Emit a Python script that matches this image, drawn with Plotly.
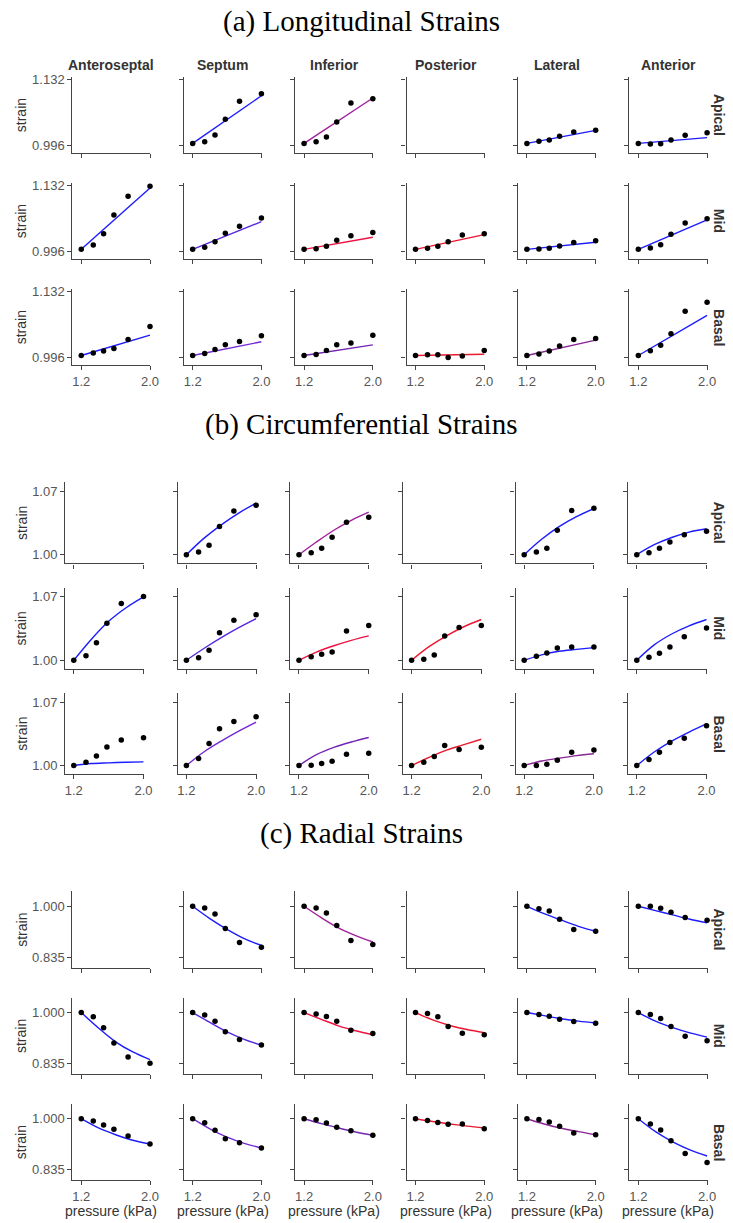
import plotly.graph_objects as go

# ---------------- data ----------------
SEGMENTS = ["Anteroseptal", "Septum", "Inferior", "Posterior", "Lateral", "Anterior"]
LEVELS = ["Apical", "Mid", "Basal"]
PRESSURE = [1.2, 1.34, 1.46, 1.58, 1.745, 2.0]

# (a) Longitudinal strains: measured points and fitted-line values
LONG_FIT_X = [1.2, 2.0]
long_apical_pts = [None,
                   [1.0, 1.0036, 1.0174, 1.0498, 1.0871, 1.1030],
                   [1.0, 1.0036, 1.0133, 1.0443, 1.0836, 1.0926],
                   None,
                   [1.0, 1.0043, 1.0070, 1.0146, 1.0236, 1.0270],
                   [1.0, 0.9988, 0.9995, 1.0070, 1.0167, 1.0222]]
long_mid_pts = [[1.0, 1.0091, 1.0326, 1.0712, 1.1099, 1.1306],
                [1.0, 1.0043, 1.0160, 1.0333, 1.0478, 1.0650],
                [1.0, 1.0015, 1.0064, 1.0188, 1.0284, 1.0347],
                [1.0, 1.0022, 1.0064, 1.0160, 1.0298, 1.0326],
                [1.0, 1.0008, 1.0022, 1.0070, 1.0140, 1.0180],
                [1.0, 1.0029, 1.0098, 1.0312, 1.0547, 1.0636]]
long_basal_pts = [[1.0, 1.0050, 1.0091, 1.0146, 1.0333, 1.0602],
                  [1.0, 1.0043, 1.0126, 1.0222, 1.0291, 1.0409],
                  [1.0, 1.0022, 1.0105, 1.0222, 1.0257, 1.0422],
                  [1.0, 1.0015, 1.0015, 0.9960, 0.9988, 1.0105],
                  [1.0, 1.0029, 1.0091, 1.0195, 1.0333, 1.0353],
                  [1.0, 1.0098, 1.0215, 1.0450, 1.0919, 1.1105]]
long_apical_fit = [None, [1.0, 1.0988], [1.0, 1.0941], None, [1.0, 1.0270], [1.0, 1.0119]]
long_mid_fit = [[1.0, 1.1271], [1.0, 1.0574], [1.0, 1.0250], [1.0, 1.0305], [1.0, 1.0146], [1.0, 1.0609]]
long_basal_fit = [[1.0, 1.0422], [1.0, 1.0285], [1.0, 1.0220], [1.0, 1.0026], [1.0, 1.0320], [1.0, 1.0830]]

# (b) Circumferential strains
CIRC_FIT_X = [1.2, 1.4, 1.6, 1.8, 2.0]
circ_apical_pts = [None,
                   [1.0, 1.0029, 1.0103, 1.0311, 1.0483, 1.0546],
                   [1.0, 1.0022, 1.0070, 1.0194, 1.0359, 1.0414],
                   None,
                   [1.0, 1.0029, 1.0070, 1.0271, 1.0487, 1.0513],
                   [1.0, 1.0022, 1.0070, 1.0139, 1.0220, 1.0260]]
circ_mid_pts = [[1.0, 1.0051, 1.0194, 1.0410, 1.0626, 1.0703],
                [1.0, 1.0029, 1.0110, 1.0304, 1.0443, 1.0502],
                [1.0, 1.0040, 1.0066, 1.0092, 1.0322, 1.0385],
                [1.0, 1.0011, 1.0059, 1.0267, 1.0363, 1.0385],
                [1.0, 1.0044, 1.0081, 1.0136, 1.0147, 1.0147],
                [1.0, 1.0033, 1.0077, 1.0147, 1.0260, 1.0355]]
circ_basal_pts = [[1.0, 1.0037, 1.0106, 1.0205, 1.0282, 1.0308],
                  [1.0, 1.0077, 1.0242, 1.0407, 1.0487, 1.0538],
                  [1.0, 1.0004, 1.0022, 1.0048, 1.0125, 1.0136],
                  [1.0, 1.0037, 1.0099, 1.0220, 1.0176, 1.0201],
                  [1.0, 1.0000, 1.0015, 1.0059, 1.0147, 1.0172],
                  [1.0, 1.0066, 1.0147, 1.0253, 1.0300, 1.0440]]
circ_apical_fit = [None,
                   [1.0, 1.018, 1.033, 1.046, 1.057],
                   [1.0, 1.014, 1.027, 1.038, 1.047],
                   None,
                   [1.0, 1.017, 1.031, 1.042, 1.051],
                   [1.0, 1.011, 1.019, 1.025, 1.0286]]
circ_mid_fit = [[1.0, 1.023, 1.043, 1.058, 1.070],
                [1.0, 1.013, 1.025, 1.036, 1.046],
                [1.0, 1.009, 1.016, 1.022, 1.027],
                [1.0, 1.015, 1.027, 1.037, 1.045],
                [1.0, 1.006, 1.010, 1.012, 1.014],
                [1.0, 1.017, 1.029, 1.038, 1.045]]
circ_basal_fit = [[1.0, 1.0022, 1.0030, 1.0036, 1.0040],
                  [1.0, 1.015, 1.027, 1.038, 1.048],
                  [1.0, 1.012, 1.020, 1.026, 1.031],
                  [1.0, 1.009, 1.017, 1.023, 1.029],
                  [1.0, 1.005, 1.008, 1.011, 1.013],
                  [1.0, 1.015, 1.027, 1.037, 1.046]]

# (c) Radial strains
RAD_FIT_X = [1.2, 1.4, 1.6, 1.8, 2.0]
rad_apical_pts = [None,
                  [1.0, 0.9946, 0.9752, 0.9277, 0.8824, 0.8673],
                  [1.0, 0.9946, 0.9784, 0.9374, 0.8889, 0.8760],
                  None,
                  [1.0, 0.9924, 0.9849, 0.9579, 0.9245, 0.9191],
                  [1.0, 1.0000, 0.9935, 0.9806, 0.9633, 0.9547]]
rad_mid_pts = [[1.0, 0.9860, 0.9504, 0.9008, 0.8554, 0.8350],
               [1.0, 0.9924, 0.9720, 0.9374, 0.9126, 0.8943],
               [1.0, 0.9957, 0.9870, 0.9720, 0.9428, 0.9320],
               [1.0, 0.9968, 0.9860, 0.9547, 0.9331, 0.9277],
               [1.0, 0.9935, 0.9881, 0.9784, 0.9709, 0.9655],
               [1.0, 0.9935, 0.9806, 0.9547, 0.9234, 0.9083]]
rad_basal_pts = [[1.0, 0.9924, 0.9795, 0.9655, 0.9439, 0.9180],
                 [1.0, 0.9870, 0.9622, 0.9353, 0.9223, 0.9050],
                 [1.0, 0.9968, 0.9860, 0.9720, 0.9612, 0.9460],
                 [1.0, 0.9946, 0.9881, 0.9817, 0.9827, 0.9676],
                 [1.0, 0.9978, 0.9892, 0.9752, 0.9536, 0.9482],
                 [1.0, 0.9827, 0.9633, 0.9288, 0.8867, 0.8576]]
rad_apical_fit = [None,
                  [1.0, 0.960, 0.925, 0.895, 0.873],
                  [1.0, 0.963, 0.930, 0.905, 0.884],
                  None,
                  [1.0, 0.976, 0.955, 0.935, 0.919],
                  [1.0, 0.986, 0.972, 0.958, 0.946]]
rad_mid_fit = [[1.0, 0.950, 0.905, 0.872, 0.847],
               [1.0, 0.968, 0.937, 0.913, 0.894],
               [1.0, 0.978, 0.957, 0.941, 0.928],
               [1.0, 0.976, 0.958, 0.945, 0.935],
               [1.0, 0.990, 0.980, 0.972, 0.966],
               [1.0, 0.972, 0.951, 0.934, 0.920]]
rad_basal_fit = [[1.0, 0.970, 0.948, 0.930, 0.918],
                 [1.0, 0.967, 0.940, 0.920, 0.905],
                 [1.0, 0.984, 0.970, 0.957, 0.946],
                 [1.0, 0.991, 0.983, 0.976, 0.970],
                 [1.0, 0.983, 0.969, 0.958, 0.948],
                 [1.0, 0.958, 0.925, 0.899, 0.879]]

# fitted-line colours per level x segment
LINE_COLORS = [["#1c1cff", "#1c1cff", "#a01f9c", "#ee1530", "#1c1cff", "#1c1cff"],
               ["#1c1cff", "#5528e2", "#ee1240", "#ee1530", "#1c1cff", "#1c1cff"],
               ["#1c1cff", "#7328d6", "#7426b4", "#e81a30", "#8a2696", "#1c1cff"]]

# ---------------- layout geometry ----------------
W, H = 733, 1223
SANS = "Liberation Sans, Arial, sans-serif"
SERIF = "Liberation Serif, Times New Roman, serif"
AXC = "#444444"
TXC = "#555555"

sections = [
    dict(title="(a) Longitudinal Strains", title_y=17,
         x0=73.3, dx=112.8, w=79.0, tops=[72.3, 178.7, 285.3], h=76.2,
         xr=[1.097, 2.005], yr=[0.9803, 1.1376],
         yt=[0.996, 1.132], ytt=["0.996", "1.132"],
         fitx=LONG_FIT_X, pts=[long_apical_pts, long_mid_pts, long_basal_pts],
         fit=[long_apical_fit, long_mid_fit, long_basal_fit], headers=True, xlabel=False),
    dict(title="(b) Circumferential Strains", title_y=421,
         x0=66.0, dx=114.0, w=79.7, tops=[479.0, 585.0, 690.7], h=81.7,
         xr=[1.1014, 2.0045], yr=[0.9904, 1.0802],
         yt=[1.00, 1.07], ytt=["1.00", "1.07"],
         fitx=CIRC_FIT_X, pts=[circ_apical_pts, circ_mid_pts, circ_basal_pts],
         fit=[circ_apical_fit, circ_mid_fit, circ_basal_fit], headers=False, xlabel=False),
    dict(title="(c) Radial Strains", title_y=832,
         x0=73.3, dx=112.8, w=79.0, tops=[890.0, 996.7, 1103.3], h=76.7,
         xr=[1.097, 2.005], yr=[0.8004, 1.0485],
         yt=[0.835, 1.000], ytt=["0.835", "1.000"],
         fitx=RAD_FIT_X, pts=[rad_apical_pts, rad_mid_pts, rad_basal_pts],
         fit=[rad_apical_fit, rad_mid_fit, rad_basal_fit], headers=False, xlabel=True),
]


def fx(px):
    return px / W


def fy(px):
    return 1 - px / H


fig = go.Figure()
layout = {}
annotations = []
k = 0
for s in sections:
    annotations.append(dict(text=s["title"], x=0.4993, y=fy(s["title_y"]), xref="paper", yref="paper",
                            xanchor="center", yanchor="middle", showarrow=False,
                            font=dict(family=SERIF, size=29, color="black")))
    for r in range(3):
        top = s["tops"][r]
        for c in range(6):
            k += 1
            xa = "xaxis" if k == 1 else f"xaxis{k}"
            ya = "yaxis" if k == 1 else f"yaxis{k}"
            xr_ = "x" if k == 1 else f"x{k}"
            yr_ = "y" if k == 1 else f"y{k}"
            left = s["x0"] + c * s["dx"]
            layout[xa] = dict(domain=[fx(left), fx(left + s["w"])], anchor=yr_, range=s["xr"],
                              tickvals=[1.2, 2.0], ticktext=["1.2", "2.0"],
                              showticklabels=(r == 2), showline=True, linecolor=AXC, linewidth=1.3,
                              ticks="outside", ticklen=4, tickwidth=1, tickcolor=AXC,
                              tickfont=dict(family=SANS, size=13, color=TXC),
                              showgrid=False, zeroline=False, fixedrange=True)
            layout[ya] = dict(domain=[fy(top + s["h"]), fy(top)], anchor=xr_, range=s["yr"],
                              tickvals=s["yt"], ticktext=s["ytt"],
                              showticklabels=(c == 0), showline=True, linecolor=AXC, linewidth=1.3,
                              ticks="outside", ticklen=4, tickwidth=1, tickcolor=AXC,
                              tickfont=dict(family=SANS, size=13, color=TXC),
                              showgrid=False, zeroline=False, fixedrange=True)
            pts = s["pts"][r][c]
            fit = s["fit"][r][c]
            if fit is not None:
                fig.add_trace(go.Scatter(x=s["fitx"], y=fit, mode="lines", xaxis=xr_, yaxis=yr_,
                                         line=dict(color=LINE_COLORS[r][c], width=1.4,
                                                   shape="spline", smoothing=1.0),
                                         cliponaxis=False, hoverinfo="skip"))
            if pts is not None:
                fig.add_trace(go.Scatter(x=PRESSURE, y=pts, mode="markers", xaxis=xr_, yaxis=yr_,
                                         marker=dict(color="black", size=5.5),
                                         cliponaxis=False))
            else:
                # empty panel: keep the axes drawn
                fig.add_trace(go.Scatter(x=[], y=[], mode="markers", xaxis=xr_, yaxis=yr_,
                                         hoverinfo="skip"))
            if s["headers"] and r == 0:
                annotations.append(dict(text=f"<b>{SEGMENTS[c]}</b>", x=fx(left + s["w"] / 2), y=fy(60),
                                        xref="paper", yref="paper", xanchor="center", yanchor="middle",
                                        showarrow=False, font=dict(family=SANS, size=14, color="#333333")))
            if s["xlabel"] and r == 2:
                annotations.append(dict(text="pressure (kPa)", x=fx(left + s["w"] / 2), y=fy(1210.5),
                                        xref="paper", yref="paper", xanchor="center", yanchor="middle",
                                        showarrow=False, font=dict(family=SANS, size=14, color="#333333")))
        # row label and y label
        annotations.append(dict(text=f"<b>{LEVELS[r]}</b>", x=fx(728), y=fy(top + s["h"] / 2),
                                xref="paper", yref="paper", xanchor="center", yanchor="middle",
                                textangle=90, showarrow=False,
                                font=dict(family=SANS, size=14, color="#333333")))
        annotations.append(dict(text="strain", x=fx(21.5), y=fy(top + s["h"] / 2),
                                xref="paper", yref="paper", xanchor="center", yanchor="middle",
                                textangle=-90, showarrow=False,
                                font=dict(family=SANS, size=14, color="#333333")))

fig.update_layout(width=W, height=H, margin=dict(l=0, r=0, t=0, b=0),
                  paper_bgcolor="white", plot_bgcolor="white", showlegend=False,
                  annotations=annotations, **layout)

fig.write_html("out.html")
